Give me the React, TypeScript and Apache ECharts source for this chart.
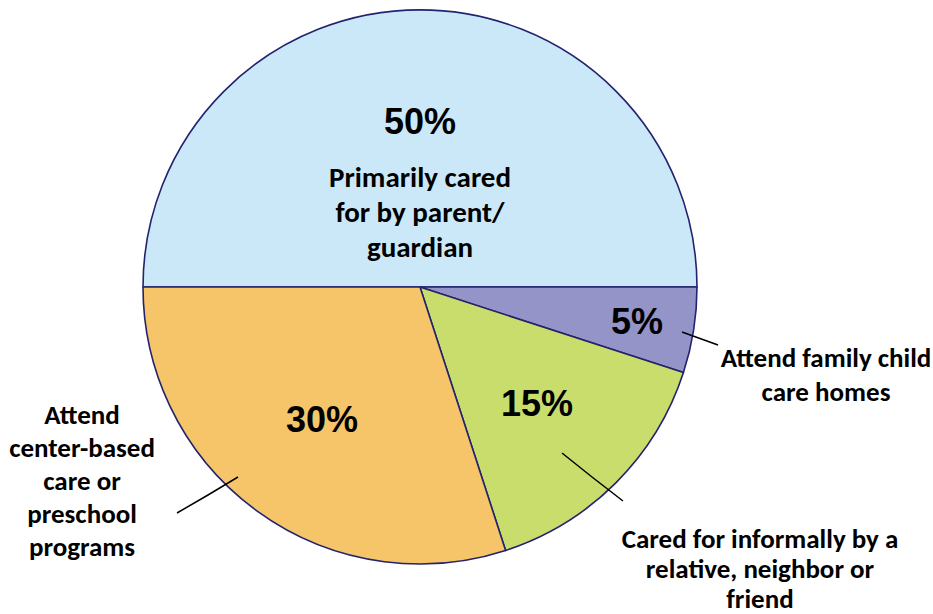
import React, { useEffect, useRef } from "react";
import * as echarts from "echarts";

const categories = [
  "Primarily cared for by parent/ guardian",
  "Attend family child care homes",
  "Cared for informally by a relative, neighbor or friend",
  "Attend center-based care or preschool programs",
];
const values = [50, 5, 15, 30];
const wrappedNames = [
  "Primarily cared\nfor by parent/\nguardian",
  "Attend family child\ncare homes",
  "Cared for informally by a\nrelative, neighbor or\nfriend",
  "Attend\ncenter-based\ncare or\npreschool\nprograms",
];
const colors = ["#CBE8F8", "#9494C8", "#C9DD6C", "#F6C56A"];

// label anchor positions (layout only)
const pctPos = [
  [420, 121],
  [637, 321],
  [537, 403],
  [322, 419],
];
const namePos = [
  [420, 212],
  [826, 374],
  [760, 568],
  [82, 480],
];
const lineHeights = [35, 34, 30, 33];
const nameSizes = [29, 27, 27, 27];
const leaderLines: (number[][] | null)[] = [
  null,
  [[682, 332], [700, 338.5], [718, 345]],
  [[562, 453], [592, 477], [623, 501]],
  [[238, 477], [208, 495], [177, 513]],
];

export default function App() {
  const ref = useRef<HTMLDivElement>(null);
  useEffect(() => {
    if (!ref.current) return;
    const chart = echarts.init(ref.current, null, { renderer: "svg" });
    const center = [420, 287];
    const radius = 277;
    const nameFont = "Carlito, Calibri, Lato, sans-serif";
    chart.setOption({
      animation: false,
      series: [
        {
          type: "pie",
          z: 2,
          center,
          radius,
          startAngle: 180,
          clockwise: true,
          silent: true,
          itemStyle: { borderColor: "#23236E", borderWidth: 1.6 },
          label: {
            show: true,
            position: "inside",
            formatter: "{c}%",
            fontFamily: "'Liberation Sans', Arial, sans-serif",
            fontWeight: "bold",
            fontSize: 36,
            color: "#000",
            align: "center",
            verticalAlign: "middle",
          },
          labelLine: { show: false },
          labelLayout: (p: any) => ({
            x: pctPos[p.dataIndex][0],
            y: pctPos[p.dataIndex][1],
            align: "center",
            verticalAlign: "middle",
          }),
          data: categories.map((n, i) => ({
            name: n,
            value: values[i],
            itemStyle: { color: colors[i] },
          })),
        },
        {
          type: "pie",
          z: 10,
          center,
          radius,
          startAngle: 180,
          clockwise: true,
          silent: true,
          itemStyle: { color: "rgba(0,0,0,0)", borderWidth: 0 },
          label: {
            show: true,
            position: "outside",
            formatter: (p: any) => wrappedNames[p.dataIndex],
            fontFamily: nameFont,
            fontWeight: "bold",
            fontSize: 27,
            overflow: "none",
            width: 400,
            color: "#000",
            align: "center",
            verticalAlign: "middle",
          },
          labelLine: {
            show: true,
            lineStyle: { color: "#000", width: 1.5 },
          },
          labelLayout: (p: any) => {
            const i = p.dataIndex;
            const r: any = {
              x: namePos[i][0],
              y: namePos[i][1],
              align: "center",
              verticalAlign: "middle",
            };
            if (leaderLines[i]) r.labelLinePoints = leaderLines[i];
            return r;
          },
          data: categories.map((n, i) => ({
            name: n,
            value: values[i],
            label: { lineHeight: lineHeights[i], fontSize: nameSizes[i] },
            labelLine: { show: i !== 0 },
          })),
        },
      ],
    });
    return () => chart.dispose();
  }, []);
  return (
    <div
      ref={ref}
      style={{ position: "fixed", left: 0, top: 0, width: 933, height: 614, background: "#fff" }}
    />
  );
}
